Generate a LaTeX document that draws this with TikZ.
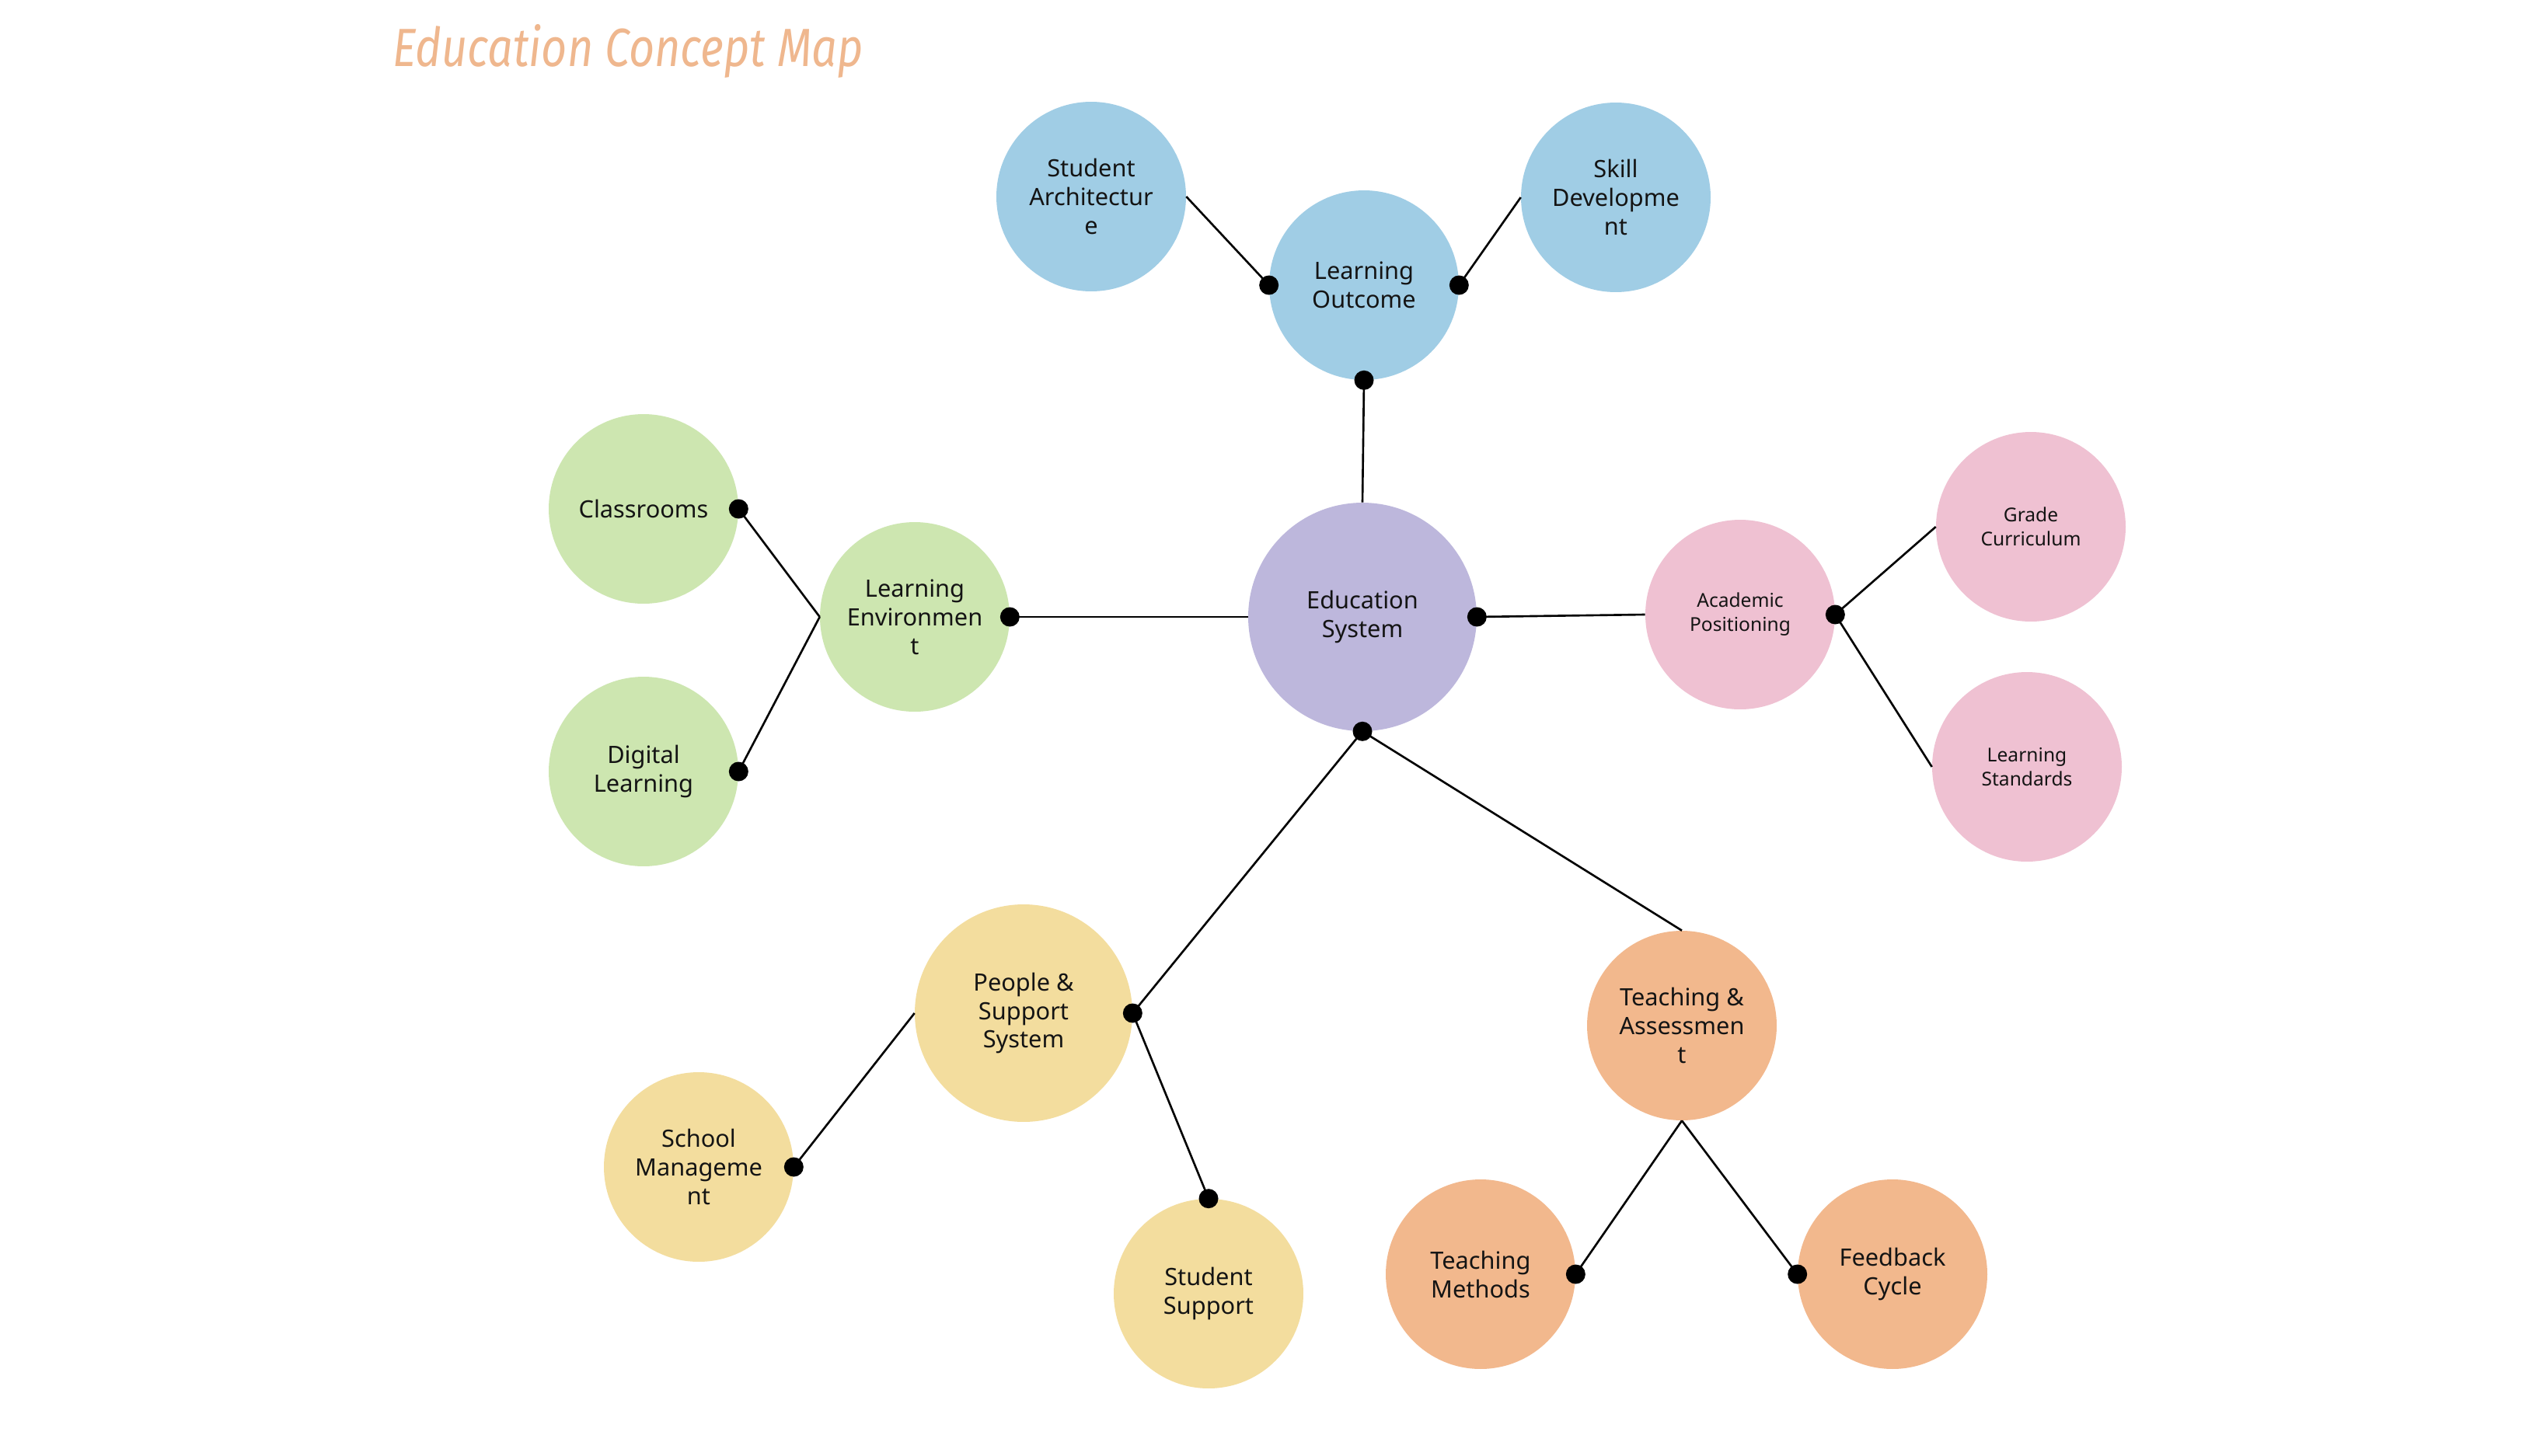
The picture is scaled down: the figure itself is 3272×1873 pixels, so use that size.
\documentclass[tikz,border=0pt]{standalone}
\usepackage{fontspec}
\setmainfont{Noto Sans}
\newfontfamily\titlefont{Fira Sans Italic}
\definecolor{cblue}{HTML}{A0CDE5}
\definecolor{cpurple}{HTML}{BDB7DC}
\definecolor{cpink}{HTML}{EFC1D2}
\definecolor{cgreen}{HTML}{CDE6B0}
\definecolor{cyellow}{HTML}{F3DD9E}
\definecolor{corange}{HTML}{F2B88D}
\definecolor{ctitle}{HTML}{EFB78E}
\definecolor{ctext}{HTML}{141414}
\begin{document}
\begin{tikzpicture}[x=0.02cm,y=-0.02cm,
  bubble/.style={circle,inner sep=0pt,minimum size=4.88cm,align=center,text=ctext,
    font=\fontsize{17.5}{21}\selectfont},
  smallbubble/.style={bubble,font=\fontsize{14}{17.6}\selectfont},
  link/.style={line width=1.5pt,black},
  dot/.style={circle,fill=black,inner sep=0pt,minimum size=0.5cm}]
\fill[white] (0,0) rectangle (3272,1873);
\useasboundingbox (0,0) rectangle (3272,1873);
\node[text=ctitle] (title) at (808,66) {\resizebox*{12.1cm}{1.38cm}{\titlefont Education Concept Map}};
% nodes
\node[bubble,fill=cpurple,minimum size=5.88cm] (es) at (1753,794) {Education\\System};
\node[bubble,fill=cblue] (lo) at (1755,367) {Learning\\Outcome};
\node[bubble,fill=cblue] (sa) at (1404,253) {Student\\Architectur\\e};
\node[bubble,fill=cblue] (sd) at (2079,254) {Skill\\Developme\\nt};
\node[smallbubble,fill=cpink] (ap) at (2239,791) {Academic\\Positioning};
\node[smallbubble,fill=cpink] (gc) at (2613,678) {Grade\\Curriculum};
\node[smallbubble,fill=cpink] (ls) at (2608,987) {Learning\\Standards};
\node[bubble,fill=cgreen] (le) at (1177,794) {Learning\\Environmen\\t};
\node[bubble,fill=cgreen] (cl) at (828,655) {Classrooms};
\node[bubble,fill=cgreen] (dl) at (828,993) {Digital\\Learning};
\node[bubble,fill=cyellow,minimum size=5.6cm] (ps) at (1317,1304) {People \&\\Support\\System};
\node[bubble,fill=cyellow] (sm) at (899,1502) {School\\Manageme\\nt};
\node[bubble,fill=cyellow] (ss) at (1555,1665) {Student\\Support};
\node[bubble,fill=corange] (ta) at (2164,1320) {Teaching \&\\Assessmen\\t};
\node[bubble,fill=corange] (tm) at (1905,1640) {Teaching\\Methods};
\node[bubble,fill=corange] (fc) at (2435,1640) {Feedback\\Cycle};
% connectors
\draw[link] (es.north) -- (lo.south);
\draw[link] (lo.west) -- (sa.east);
\draw[link] (lo.east) -- (sd.west);
\draw[link] (es.east) -- (ap.west);
\draw[link] (ap.east) -- (gc.west);
\draw[link] (ap.east) -- (ls.west);
\draw[link] (es.west) -- (le.east);
\draw[link] (le.west) -- (cl.east);
\draw[link] (le.west) -- (dl.east);
\draw[link] (es.south) -- (ps.east);
\draw[link] (es.south) -- (ta.north);
\draw[link] (ps.west) -- (sm.east);
\draw[link] (ps.east) -- (ss.north);
\draw[link] (ta.south) -- (tm.east);
\draw[link] (ta.south) -- (fc.west);
% dots
\node[dot] (d1) at (lo.south) {};
\node[dot] (d2) at (lo.west) {};
\node[dot] (d3) at (lo.east) {};
\node[dot] (d4) at (es.east) {};
\node[dot] (d5) at (ap.east) {};
\node[dot] (d6) at (le.east) {};
\node[dot] (d7) at (cl.east) {};
\node[dot] (d8) at (dl.east) {};
\node[dot] (d9) at (es.south) {};
\node[dot] (d10) at (ps.east) {};
\node[dot] (d11) at (sm.east) {};
\node[dot] (d12) at (ss.north) {};
\node[dot] (d13) at (tm.east) {};
\node[dot] (d14) at (fc.west) {};
\end{tikzpicture}
\end{document}
